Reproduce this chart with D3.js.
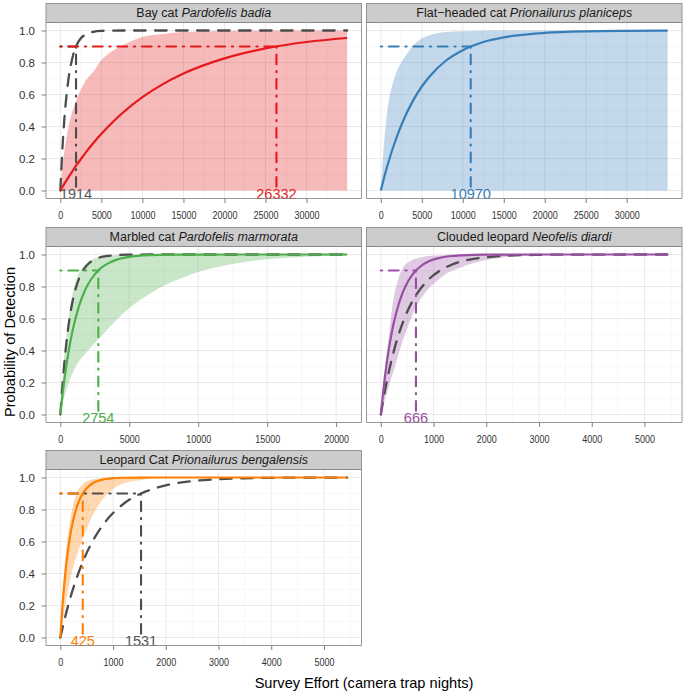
<!DOCTYPE html>
<html>
<head>
<meta charset="utf-8">
<script src="https://cdn.jsdelivr.net/npm/d3@7"></script>
<style>
  html, body { margin: 0; padding: 0; background: #fff; }
  svg { display: block; font-family: "Liberation Sans", Arial, sans-serif; }
</style>
</head>
<body>
<svg id="chart" width="686" height="693"></svg>
<script>
// ---------------- data ----------------
const commonNames = ["Bay cat", "Flat\u2212headed cat", "Marbled cat", "Clouded leopard", "Leopard Cat"];
const latinNames = ["Pardofelis badia", "Prionailurus planiceps", "Pardofelis marmorata", "Neofelis diardi", "Prionailurus bengalensis"];
const effort90 = [26332, 10970, 2754, 666, 425];          // effort for 90% detection (species)
const greyEffort90 = [1914, null, null, null, 1531];       // effort for 90% detection (grey reference curve, labelled)
const yTicks = [0, 0.2, 0.4, 0.6, 0.8, 1.0];
const xTicksBay = [0, 5000, 10000, 15000, 20000, 25000, 30000];
const xTicksFlat = [0, 5000, 10000, 15000, 20000, 25000, 30000];
const xTicksMarbled = [0, 5000, 10000, 15000, 20000];
const xTicksClouded = [0, 1000, 2000, 3000, 4000, 5000];
const xTicksLeopard = [0, 1000, 2000, 3000, 4000, 5000];

// Bay cat
const bayEffort = [0, 250, 500, 1000, 1500, 2000, 2500, 3000, 4000, 5000, 6000, 7500, 10000, 12500, 15000, 20000, 25000, 30000, 34950];
const bayMean   = [0, 0.022, 0.043, 0.084, 0.123, 0.161, 0.196, 0.231, 0.295, 0.354, 0.408, 0.481, 0.583, 0.665, 0.731, 0.826, 0.888, 0.928, 0.953];
const bayUpper  = [0, 0.15, 0.25, 0.40, 0.50, 0.57, 0.63, 0.68, 0.74, 0.815, 0.86, 0.905, 0.96, 0.978, 0.99, 0.997, 0.999, 1, 1];
const bayLower  = [0, 0, 0, 0, 0, 0, 0, 0, 0, 0, 0, 0, 0, 0, 0, 0, 0, 0, 0];
const bayGrey   = [0, 0.260, 0.452, 0.700, 0.835, 0.910, 0.951, 0.973, 0.992, 0.998, 0.999, 1, 1, 1, 1, 1, 1, 1, 1];

// Flat-headed cat
const flatEffort = [0, 250, 500, 900, 1250, 1700, 2000, 2500, 3000, 4000, 5000, 6000, 8000, 10000, 12500, 15000, 20000, 25000, 30000, 35000];
const flatMean   = [0, 0.051, 0.100, 0.172, 0.231, 0.300, 0.343, 0.408, 0.467, 0.568, 0.650, 0.716, 0.814, 0.877, 0.928, 0.957, 0.985, 0.995, 0.998, 0.999];
const flatUpper  = [0, 0.20, 0.36, 0.54, 0.63, 0.71, 0.75, 0.80, 0.84, 0.91, 0.95, 0.972, 0.99, 0.996, 0.999, 1, 1, 1, 1, 1];
const flatLower  = [0, 0, 0, 0, 0, 0, 0, 0, 0, 0, 0, 0, 0, 0, 0, 0, 0, 0, 0, 0];

// Marbled cat
const marbEffort = [0, 170, 350, 530, 750, 900, 1250, 1500, 1750, 2000, 2500, 2754, 3000, 3500, 4000, 5000, 5600, 6500, 7500, 9000, 10000, 12500, 15000, 17500, 20800];
const marbMean   = [0, 0.133, 0.254, 0.358, 0.466, 0.529, 0.648, 0.715, 0.769, 0.812, 0.876, 0.900, 0.919, 0.946, 0.965, 0.985, 0.991, 0.996, 0.998, 0.9995, 0.9998, 1, 1, 1, 1];
const marbUpper  = [0, 0.24, 0.42, 0.56, 0.69, 0.76, 0.865, 0.905, 0.935, 0.952, 0.975, 0.982, 0.987, 0.994, 0.997, 0.999, 1, 1, 1, 1, 1, 1, 1, 1, 1];
const marbLower  = [0, 0.07, 0.13, 0.18, 0.23, 0.26, 0.32, 0.35, 0.375, 0.40, 0.447, 0.47, 0.49, 0.54, 0.585, 0.665, 0.705, 0.755, 0.805, 0.86, 0.89, 0.94, 0.97, 0.985, 0.993];
const marbGrey   = [0, 0.200, 0.375, 0.515, 0.645, 0.712, 0.825, 0.877, 0.913, 0.939, 0.970, 0.979, 0.985, 0.992, 0.996, 0.999, 0.9996, 1, 1, 1, 1, 1, 1, 1, 1];

// Clouded leopard
const cloudEffort = [0, 50, 100, 140, 200, 250, 330, 420, 520, 580, 666, 750, 900, 1000, 1150, 1300, 1530, 1750, 2000, 2350, 2700, 3000, 3500, 4000, 5440];
const cloudMean   = [0, 0.159, 0.292, 0.384, 0.499, 0.579, 0.680, 0.766, 0.834, 0.865, 0.900, 0.925, 0.956, 0.969, 0.981, 0.989, 0.995, 0.998, 0.999, 0.9997, 1, 1, 1, 1, 1];
const cloudUpper  = [0, 0.20, 0.36, 0.46, 0.63, 0.74, 0.845, 0.918, 0.952, 0.963, 0.975, 0.982, 0.99, 0.993, 0.996, 0.998, 0.999, 1, 1, 1, 1, 1, 1, 1, 1];
const cloudLower  = [0, 0.06, 0.12, 0.16, 0.23, 0.28, 0.37, 0.465, 0.556, 0.605, 0.672, 0.72, 0.785, 0.815, 0.858, 0.89, 0.921, 0.945, 0.965, 0.983, 0.991, 0.995, 0.998, 0.999, 1];
const cloudGrey   = [0, 0.097, 0.185, 0.250, 0.336, 0.401, 0.492, 0.577, 0.656, 0.696, 0.745, 0.785, 0.842, 0.871, 0.905, 0.930, 0.957, 0.972, 0.983, 0.992, 0.996, 0.998, 0.999, 0.9997, 1];

// Leopard cat
const leopEffort = [0, 40, 80, 120, 160, 200, 250, 300, 350, 425, 500, 600, 700, 800, 900, 1000, 1200, 1531, 1750, 2000, 2500, 3000, 3500, 4000, 4500, 5440];
const leopMean   = [0, 0.195, 0.352, 0.478, 0.580, 0.662, 0.742, 0.803, 0.850, 0.900, 0.933, 0.961, 0.978, 0.987, 0.992, 0.996, 0.9985, 0.9998, 1, 1, 1, 1, 1, 1, 1, 1];
const leopUpper  = [0, 0.25, 0.44, 0.58, 0.68, 0.76, 0.84, 0.895, 0.93, 0.96, 0.976, 0.987, 0.993, 0.996, 0.998, 0.999, 1, 1, 1, 1, 1, 1, 1, 1, 1, 1];
const leopLower  = [0, 0.09, 0.17, 0.25, 0.32, 0.38, 0.45, 0.50, 0.55, 0.62, 0.68, 0.755, 0.815, 0.862, 0.90, 0.928, 0.962, 0.985, 0.994, 0.997, 0.999, 1, 1, 1, 1, 1];
const leopGrey   = [0, 0.058, 0.113, 0.165, 0.214, 0.260, 0.313, 0.363, 0.409, 0.472, 0.529, 0.594, 0.651, 0.700, 0.742, 0.778, 0.836, 0.900, 0.928, 0.951, 0.977, 0.989, 0.995, 0.998, 0.999, 0.9997];

// ---------------- styling / layout ----------------
const colours = ["#E41A1C", "#377EB8", "#4DAF4A", "#984EA3", "#FF7F00"];
const greyCol = "#4D4D4D";

const panels = [
  { effort: bayEffort,   mean: bayMean,   upper: bayUpper,   lower: bayLower,   grey: bayGrey,   ticks: xTicksBay },
  { effort: flatEffort,  mean: flatMean,  upper: flatUpper,  lower: flatLower,  grey: null,      ticks: xTicksFlat },
  { effort: marbEffort,  mean: marbMean,  upper: marbUpper,  lower: marbLower,  grey: marbGrey,  ticks: xTicksMarbled },
  { effort: cloudEffort, mean: cloudMean, upper: cloudUpper, lower: cloudLower, grey: cloudGrey, ticks: xTicksClouded },
  { effort: leopEffort,  mean: leopMean,  upper: leopUpper,  lower: leopLower,  grey: leopGrey,  ticks: xTicksLeopard }
];

const colLeft = [46, 366.5];
const panelW = 315.5;
const rowTop = [22.5, 246.5, 469.5];
const panelH = 176;
const stripH = 19;

const svg = d3.select("#chart");

panels.forEach((p, i) => {
  const col = i % 2, row = Math.floor(i / 2);
  const L = colLeft[col], T = rowTop[row];
  const xMax = p.effort[p.effort.length - 1];
  const x = d3.scaleLinear().domain([-0.05 * xMax, 1.05 * xMax]).range([L, L + panelW]);
  const y = d3.scaleLinear().domain([-0.05, 1.05]).range([T + panelH, T]);
  const col0 = colours[i];

  const g = svg.append("g");
  g.append("rect").attr("x", L).attr("y", T).attr("width", panelW).attr("height", panelH).attr("fill", "#fff");

  // minor grid
  const step = p.ticks[1] - p.ticks[0];
  const minorX = p.ticks.map(t => t + step / 2).filter(v => x(v) < L + panelW);
  g.selectAll(".mgx").data(minorX).enter().append("line")
    .attr("x1", d => x(d)).attr("x2", d => x(d)).attr("y1", T).attr("y2", T + panelH)
    .attr("stroke", "#F2F2F2").attr("stroke-width", 0.6);
  const minorY = yTicks.slice(0, -1).map(t => t + 0.1);
  g.selectAll(".mgy").data(minorY).enter().append("line")
    .attr("x1", L).attr("x2", L + panelW).attr("y1", d => y(d)).attr("y2", d => y(d))
    .attr("stroke", "#F2F2F2").attr("stroke-width", 0.6);
  // major grid
  g.selectAll(".gx").data(p.ticks).enter().append("line")
    .attr("x1", d => x(d)).attr("x2", d => x(d)).attr("y1", T).attr("y2", T + panelH)
    .attr("stroke", "#E5E5E5").attr("stroke-width", 0.8);
  g.selectAll(".gy").data(yTicks).enter().append("line")
    .attr("x1", L).attr("x2", L + panelW).attr("y1", d => y(d)).attr("y2", d => y(d))
    .attr("stroke", "#E5E5E5").attr("stroke-width", 0.8);

  const pts = p.effort.map((e, k) => ({ e, m: p.mean[k], u: p.upper[k], l: p.lower[k], g: p.grey ? p.grey[k] : null }));

  // ribbon
  const area = d3.area().x(d => x(d.e)).y0(d => y(d.l)).y1(d => y(d.u)).curve(d3.curveMonotoneX);
  g.append("path").datum(pts).attr("d", area).attr("fill", col0).attr("fill-opacity", 0.3);

  // grey curve
  if (p.grey) {
    const gl = d3.line().x(d => x(d.e)).y(d => y(d.g)).curve(d3.curveMonotoneX);
    g.append("path").datum(pts).attr("d", gl).attr("fill", "none").attr("stroke", greyCol)
      .attr("stroke-width", 2.3).attr("stroke-dasharray", "11.5,9.5").attr("stroke-linecap", "round");
  }
  // main curve
  const ml = d3.line().x(d => x(d.e)).y(d => y(d.m)).curve(d3.curveMonotoneX);
  g.append("path").datum(pts).attr("d", ml).attr("fill", "none").attr("stroke", col0).attr("stroke-width", 2.2);

  const dotdash = "1.3,6.7,9.8,6.7";
  if (greyEffort90[i] !== null) {
    const ge = greyEffort90[i];
    g.append("line").attr("x1", x(0)).attr("x2", x(ge)).attr("y1", y(0.9)).attr("y2", y(0.9))
      .attr("stroke", greyCol).attr("stroke-width", 2.1).attr("stroke-dasharray", dotdash).attr("stroke-linecap", "round");
    g.append("line").attr("x1", x(ge)).attr("x2", x(ge)).attr("y1", y(0.9)).attr("y2", y(0))
      .attr("stroke", greyCol).attr("stroke-width", 2.1).attr("stroke-dasharray", dotdash).attr("stroke-linecap", "round");
  }
  const se = effort90[i];
  g.append("line").attr("x1", x(0)).attr("x2", x(se)).attr("y1", y(0.9)).attr("y2", y(0.9))
    .attr("stroke", col0).attr("stroke-width", 2.1).attr("stroke-dasharray", dotdash).attr("stroke-linecap", "round");
  g.append("line").attr("x1", x(se)).attr("x2", x(se)).attr("y1", y(0.9)).attr("y2", y(0))
    .attr("stroke", col0).attr("stroke-width", 2.1).attr("stroke-dasharray", dotdash).attr("stroke-linecap", "round");

  // labels
  if (greyEffort90[i] !== null) {
    g.append("text").attr("x", x(greyEffort90[i])).attr("y", y(0) + 3)
      .attr("text-anchor", "middle").attr("dominant-baseline", "central")
      .attr("font-size", 14.5).attr("fill", "#555555").text(greyEffort90[i]);
  }
  g.append("text").attr("x", x(se)).attr("y", y(0) + 3)
    .attr("text-anchor", "middle").attr("dominant-baseline", "central")
    .attr("font-size", 14.5).attr("fill", col0).text(se);

  // panel border
  g.append("rect").attr("x", L).attr("y", T).attr("width", panelW).attr("height", panelH)
    .attr("fill", "none").attr("stroke", "#7F7F7F").attr("stroke-width", 0.8);

  // strip
  g.append("rect").attr("x", L).attr("y", T - stripH).attr("width", panelW).attr("height", stripH)
    .attr("fill", "#CCCCCC").attr("stroke", "#7F7F7F").attr("stroke-width", 0.8);
  const st = g.append("text").attr("x", L + panelW / 2).attr("y", T - stripH / 2)
    .attr("text-anchor", "middle").attr("dominant-baseline", "central").attr("font-size", 12.5).attr("fill", "#1A1A1A");
  st.append("tspan").text(commonNames[i] + " ");
  st.append("tspan").attr("font-style", "italic").text(latinNames[i]);

  // x axis
  const xAxis = d3.axisBottom(x).tickValues(p.ticks).tickFormat(d3.format("d")).tickSize(4.5).tickPadding(7.5);
  const xa = g.append("g").attr("transform", `translate(0,${T + panelH})`).call(xAxis);
  xa.select(".domain").remove();
  xa.selectAll(".tick line").attr("stroke", "#7F7F7F");
  xa.selectAll(".tick text").attr("font-size", 11.5).attr("fill", "#333333")
    .attr("font-family", "Liberation Sans, Arial, sans-serif").attr("transform", "scale(0.78,1)");

  // y axis (left column only)
  if (col === 0) {
    const yAxis = d3.axisLeft(y).tickValues(yTicks).tickFormat(d3.format(".1f")).tickSize(4.5).tickPadding(6.5);
    const ya = g.append("g").attr("transform", `translate(${L},0)`).call(yAxis);
    ya.select(".domain").remove();
    ya.selectAll(".tick line").attr("stroke", "#7F7F7F");
    ya.selectAll(".tick text").attr("font-size", 11.5).attr("fill", "#333333").attr("font-family", "Liberation Sans, Arial, sans-serif");
  }
});

// axis titles
svg.append("text").attr("x", 364).attr("y", 683).attr("text-anchor", "middle").attr("dominant-baseline", "central")
  .attr("font-size", 14.6).attr("fill", "#000").text("Survey Effort (camera trap nights)");
svg.append("text").attr("transform", "translate(10,342) rotate(-90)").attr("text-anchor", "middle").attr("dominant-baseline", "central")
  .attr("font-size", 14.6).attr("fill", "#000").text("Probability of Detection");
</script>
</body>
</html>
